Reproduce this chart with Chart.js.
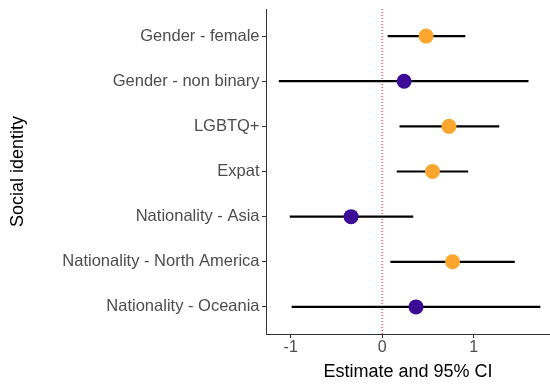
<!DOCTYPE html>
<html>
<head>
<meta charset="utf-8">
<script src="https://cdn.jsdelivr.net/npm/chart.js@4.4.1/dist/chart.umd.min.js"></script>
<style>
  html, body { margin: 0; padding: 0; background: #fff; }
  #wrap { width: 550px; height: 388px; }
</style>
</head>
<body>
<div id="wrap"><canvas id="chart" width="550" height="388"></canvas></div>
<script>
// Social identity effects: point estimate with 95% confidence interval
const categories = [
  'Gender - female',
  'Gender - non binary',
  'LGBTQ+',
  'Expat',
  'Nationality - Asia',
  'Nationality - North America',
  'Nationality - Oceania'
];
const estimates = [0.48, 0.24, 0.73, 0.55, -0.34, 0.77, 0.37];
const ciLower   = [0.06, -1.13, 0.19, 0.16, -1.01, 0.09, -0.99];
const ciUpper   = [0.91, 1.60, 1.28, 0.94, 0.34, 1.45, 1.73];
const xTicks = [-1, 0, 1];

const COLOR_SIG = '#FBA62E';
const COLOR_NS = '#3D0C96';
const FONT = "'Liberation Sans', Arial, sans-serif";

// an interval that excludes zero gets the orange marker
const pointColors = categories.map((_, i) =>
  (ciLower[i] > 0 || ciUpper[i] < 0) ? COLOR_SIG : COLOR_NS);

const datasets = [];

// reference line at zero
datasets.push({
  data: [{ x: 0, y: 0.4 }, { x: 0, y: categories.length + 0.6 }],
  showLine: true,
  borderColor: '#FF2020',
  borderWidth: 1.1,
  borderDash: [1, 2],
  pointRadius: 0,
  order: 3
});

// confidence interval segments
categories.forEach((c, i) => {
  datasets.push({
    data: [{ x: ciLower[i], y: i + 1 }, { x: ciUpper[i], y: i + 1 }],
    showLine: true,
    borderColor: '#000000',
    borderWidth: 2.2,
    pointRadius: 0,
    order: 2
  });
});

// estimates
datasets.push({
  data: estimates.map((v, i) => ({ x: v, y: i + 1 })),
  pointRadius: 7.5,
  pointBackgroundColor: pointColors,
  pointBorderWidth: 0,
  pointBorderColor: pointColors,
  order: 1
});

new Chart(document.getElementById('chart'), {
  type: 'scatter',
  data: { datasets },
  options: {
    responsive: false,
    animation: false,
    devicePixelRatio: 1,
    layout: { autoPadding: false, padding: { top: 9, right: 0, bottom: 0, left: 0 } },
    plugins: { legend: { display: false }, tooltip: { enabled: false } },
    scales: {
      x: {
        type: 'linear',
        min: -1.27,
        max: 1.835,
        afterBuildTicks: s => { s.ticks = xTicks.map(v => ({ value: v })); },
        afterFit: s => { s.height = 54; s.paddingLeft = 0; s.paddingRight = 0; },
        grid: { drawOnChartArea: false, drawTicks: true, tickLength: 4, color: '#333333', lineWidth: 1 },
        border: { display: true, color: '#333333', width: 1 },
        ticks: {
          color: '#4D4D4D',
          font: { family: FONT, size: 16 },
          padding: 0,
          maxRotation: 0,
          callback: v => String(v)
        },
        title: {
          display: true,
          text: 'Estimate and 95% CI',
          color: '#000000',
          font: { family: FONT, size: 18 },
          padding: { top: 0, bottom: 5 }
        }
      },
      y: {
        type: 'linear',
        reverse: true,
        min: 0.4,
        max: categories.length + 0.6,
        afterBuildTicks: s => { s.ticks = categories.map((_, i) => ({ value: i + 1 })); },
        afterFit: s => { s.width = 266; s.paddingTop = 0; s.paddingBottom = 0; },
        grid: { drawOnChartArea: false, drawTicks: true, tickLength: 4, color: '#333333', lineWidth: 1 },
        border: { display: true, color: '#333333', width: 1 },
        ticks: {
          color: '#4D4D4D',
          font: { family: FONT, size: 16.5 },
          padding: 2.5,
          callback: v => categories[Math.round(v) - 1]
        },
        title: {
          display: true,
          text: 'Social identity',
          color: '#000000',
          font: { family: FONT, size: 18 },
          padding: { top: 7.5, bottom: 0 }
        }
      }
    }
  }
});
</script>
</body>
</html>
